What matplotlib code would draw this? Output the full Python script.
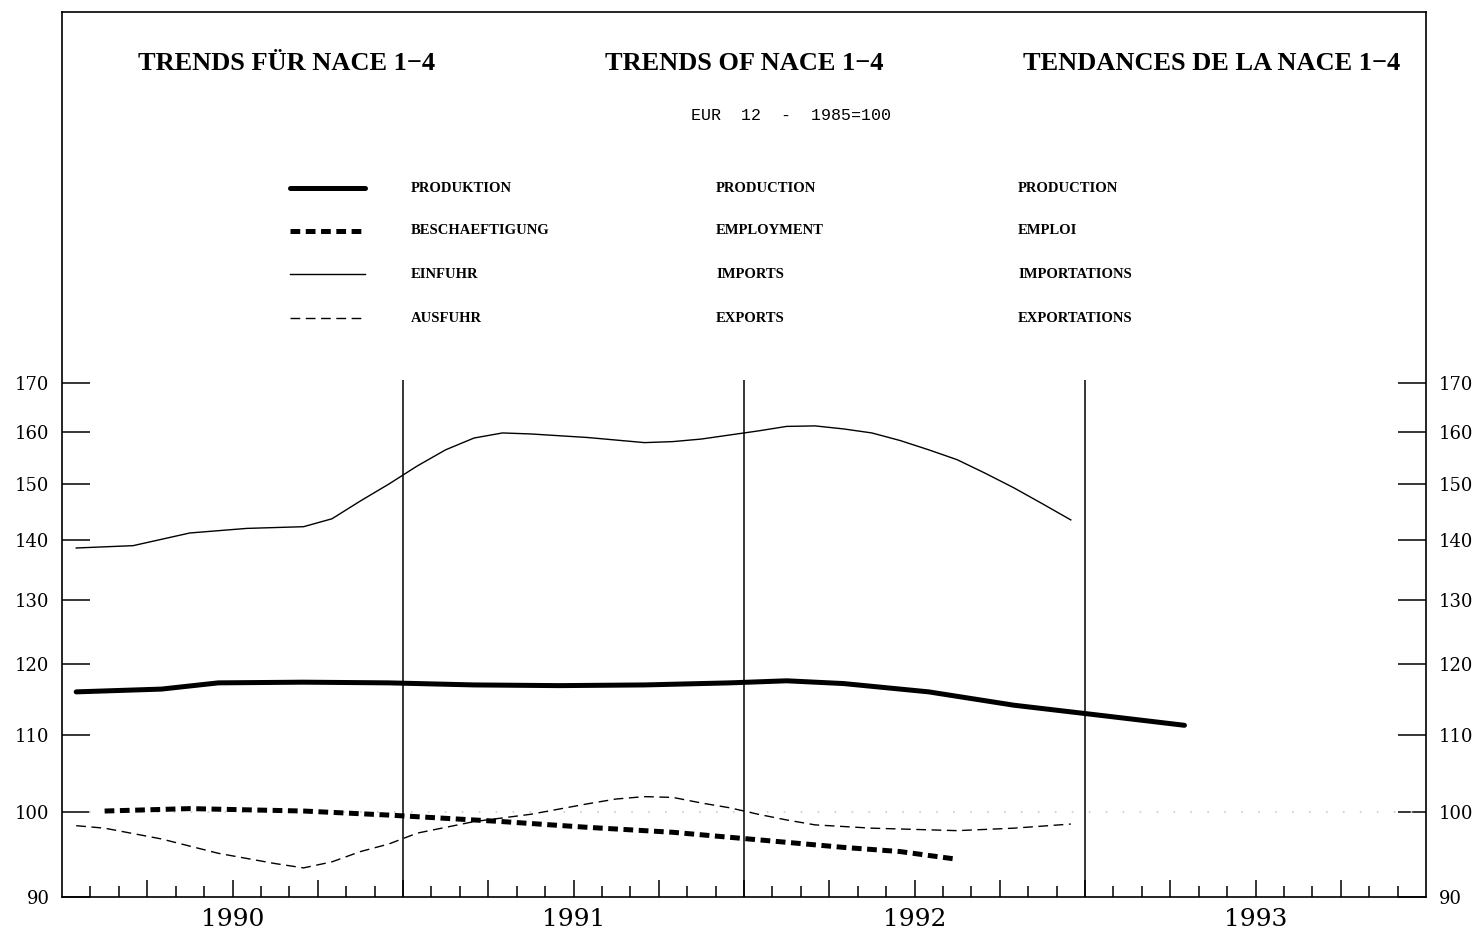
import matplotlib
matplotlib.use("Agg")
import matplotlib.pyplot as plt
from matplotlib.lines import Line2D
from matplotlib.ticker import FixedLocator, NullLocator, FixedFormatter

# months counted from Jan 1990, index values 1985=100
prod_m = [0, 3, 5, 8, 11, 14, 17, 20, 23, 25, 27, 30, 33, 36, 39]
prod_v = [116.0, 116.4, 117.3, 117.4, 117.3, 117.0, 116.9, 117.0, 117.3, 117.6,
          117.2, 116.0, 114.1, 112.7, 111.3]

emp_m = [1, 4, 8, 11, 12, 15, 18, 21, 24, 27, 29, 31]
emp_v = [100.1, 100.4, 100.1, 99.6, 99.4, 98.8, 98.1, 97.5, 96.6, 95.7, 95.2, 94.3]

imp_m = [0, 2, 4, 6, 8, 9, 10, 11, 12, 13, 14, 15, 16, 18, 20, 21, 22, 23, 24,
         25, 26, 27, 28, 29, 30, 31, 32, 33, 34, 35]
imp_v = [138.6, 139.0, 141.2, 142.0, 142.3, 143.7, 146.9, 150.0, 153.4, 156.5,
         158.8, 159.8, 159.6, 158.9, 157.9, 158.1, 158.6, 159.4, 160.2, 161.1,
         161.2, 160.6, 159.8, 158.3, 156.5, 154.6, 152.0, 149.3, 146.4, 143.5]

exp_m = [0, 1, 3, 5, 7, 8, 9, 10, 11, 12, 14, 16, 18, 19, 20, 21, 22, 23, 24,
         25, 26, 28, 30, 31, 33, 35]
exp_v = [98.3, 98.0, 96.7, 95.0, 93.8, 93.3, 94.0, 95.2, 96.1, 97.4, 98.8, 99.7,
         101.0, 101.6, 101.9, 101.8, 101.1, 100.5, 99.7, 99.0, 98.4, 98.0, 97.8,
         97.7, 98.0, 98.5]

years = [1990, 1991, 1992, 1993]
y_ticks = [90, 100, 110, 120, 130, 140, 150, 160, 170]

labels_de = ["PRODUKTION", "BESCHAEFTIGUNG", "EINFUHR", "AUSFUHR"]
labels_en = ["PRODUCTION", "EMPLOYMENT", "IMPORTS", "EXPORTS"]
labels_fr = ["PRODUCTION", "EMPLOI", "IMPORTATIONS", "EXPORTATIONS"]

plt.rcParams['lines.scale_dashes'] = False

styles = [
    dict(color='black', lw=3.6, solid_capstyle='round'),
    dict(color='black', lw=3.6, dashes=(7, 4), dash_capstyle='butt'),
    dict(color='black', lw=1.0),
    dict(color='black', lw=1.0, dashes=(7, 4)),
]


def to_year(months):
    return [1990 + (m + 0.5) / 12 for m in months]


W, H = 1475, 934
fig = plt.figure(figsize=(W / 100, H / 100), dpi=100)
fig.patch.set_facecolor('white')
ax = fig.add_axes([62 / W, 37 / H, 1364 / W, 885 / H])
ax.set_facecolor('white')

ax.set_yscale('log')
ax.set_ylim(90, 269)
ax.set_xlim(1990, 1994)

# reference line at 100
ax.hlines(100, 1990.08, 1994, colors='#cfcfcf', lw=1.3, linestyles=(0, (1.2, 11)))

# year separators
ax.vlines(years[1:], 90, 170.6, colors='black', lw=1.1)

series = [(prod_m, prod_v), (emp_m, emp_v), (imp_m, imp_v), (exp_m, exp_v)]
for (m, v), st in zip(series, styles):
    ax.plot(to_year(m), v, **st)

# y axis on both sides
ax.yaxis.set_major_locator(FixedLocator(y_ticks))
ax.yaxis.set_minor_locator(NullLocator())
ax.yaxis.set_major_formatter(FixedFormatter([str(t) for t in y_ticks]))
ax.tick_params(axis='y', which='major', left=True, right=True, labelleft=True,
               labelright=True, direction='in', length=20, width=1.1, pad=9,
               labelsize=13)
for lab in ax.get_yticklabels():
    lab.set_fontfamily('DejaVu Serif')

# x axis: quarterly long ticks, monthly short ticks, year labels mid-year
quarters = [years[0] + k / 4 for k in range(1, 16)]
months = [years[0] + k / 12 for k in range(1, 48) if k % 3 != 0]
ax.xaxis.set_major_locator(FixedLocator(quarters))
ax.xaxis.set_major_formatter(FixedFormatter(
    [str(int(q)) if abs(q - int(q) - 0.5) < 1e-6 else '' for q in quarters]))
ax.xaxis.set_minor_locator(FixedLocator(months))
ax.tick_params(axis='x', which='major', direction='in', length=12, width=1.1,
               top=False, pad=8, labelsize=18)
ax.tick_params(axis='x', which='minor', direction='in', length=8, width=1.1,
               top=False)
for lab in ax.get_xticklabels():
    lab.set_fontfamily('DejaVu Serif')

for sp in ax.spines.values():
    sp.set_linewidth(1.2)

# titles
tfont = dict(family='Liberation Serif', weight='bold', size=19, ha='center', va='center')
fig.text(287 / W, 1 - 64 / H, "TRENDS FÜR NACE 1\u22124", **tfont)
fig.text(744 / W, 1 - 64 / H, "TRENDS OF NACE 1\u22124", **tfont)
fig.text(1212 / W, 1 - 64 / H, "TENDANCES DE LA NACE 1\u22124", **tfont)
fig.text(791 / W, 1 - 115 / H, "EUR  12  -  1985=100", family='Liberation Mono',
         size=12, ha='center', va='center')

# legend in three languages
lfont = dict(family='Liberation Serif', weight='bold', size=10.5, va='center')
rows = [188, 231, 274, 318]
for py, st, de, en, fr in zip(rows, styles, labels_de, labels_en, labels_fr):
    yf = 1 - py / H
    fig.add_artist(Line2D([290 / W, 365 / W], [yf, yf], **st))
    fig.text(411 / W, yf, de, **lfont)
    fig.text(716 / W, yf, en, **lfont)
    fig.text(1018 / W, yf, fr, **lfont)

fig.savefig('out.png', dpi=100, facecolor=fig.get_facecolor())
